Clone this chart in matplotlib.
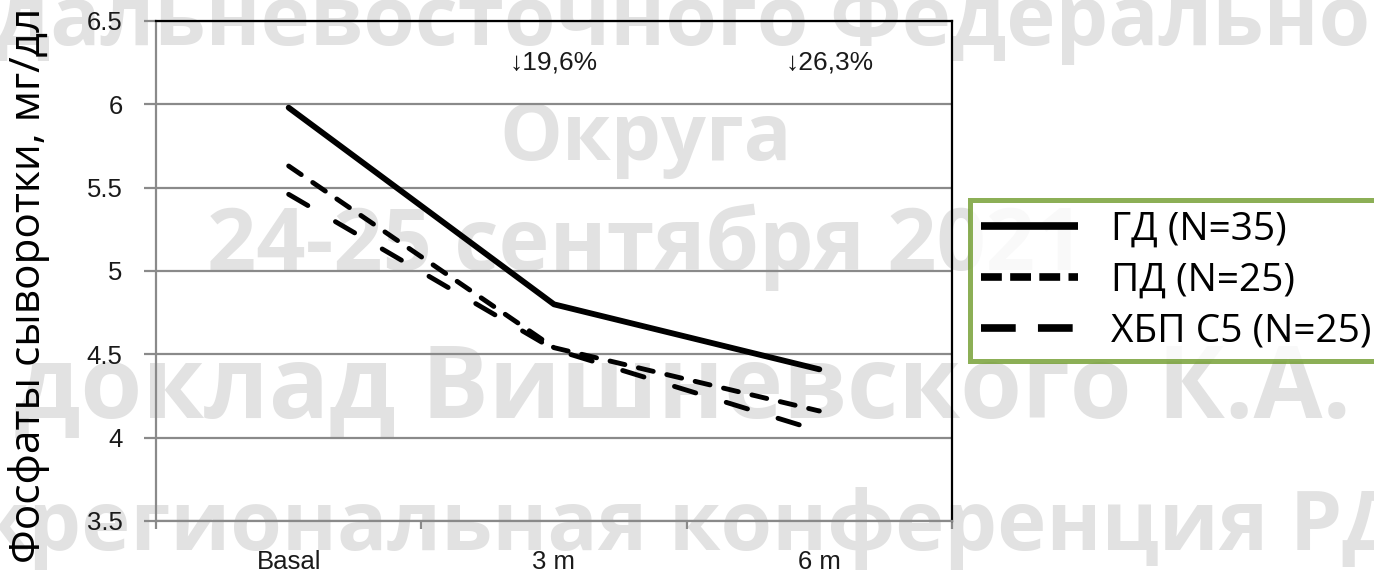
import matplotlib
matplotlib.use("Agg")
import matplotlib.pyplot as plt
from matplotlib.lines import Line2D

plt.rcParams['lines.scale_dashes'] = False

# data
categories = ['Basal', '3 m', '6 m']
gd_values = [5.98, 4.80, 4.41]
pd_values = [5.63, 4.54, 4.16]
ckd_values = [5.46, 4.53, 4.04]
series_labels = ['ГД (N=35)', 'ПД (N=25)', 'ХБП С5 (N=25)']
drop_labels = ['↓19,6%', '↓26,3%']
drop_x = [1.0, 2.04]
y_ticks = [3.5, 4, 4.5, 5, 5.5, 6, 6.5]
ylabel = 'Фосфаты сыворотки, мг/дл'

# watermark lines: text, baseline (px from top), centre x (fig frac), size
watermark = ['дальневосточного Федерального', 'Округа', '24-25 сентября 2021',
             'доклад Вишневского К.А.', 'межрегиональная конференция РДО']
watermark_base = [45, 160, 270, 418, 550]
watermark_cx = [0.53, 0.47, 0.47, 0.497, 0.476]
watermark_size = [60, 57, 62, 72, 60]

W, H = 1374, 573
fig = plt.figure(figsize=(W / 100, H / 100), dpi=100)
ax = fig.add_axes([156 / W, 1 - 521 / H, (952 - 156) / W, (521 - 21) / H])
ax.set_facecolor('none')

# watermark behind everything
for txt, yb, cx, fs in zip(watermark, watermark_base, watermark_cx, watermark_size):
    fig.text(cx, 1 - yb / H, txt, ha='center', va='baseline',
             fontsize=fs, fontweight='bold', family='Open Sans',
             color='#e2e2e2', zorder=-5)

x = range(len(categories))
ax.plot(x, gd_values, color='black', lw=4.2, solid_capstyle='round',
        solid_joinstyle='round', zorder=5)
ax.plot(x, pd_values, color='black', lw=3.5, dashes=(11, 10),
        dash_capstyle='round', zorder=4)
ax.plot(x, ckd_values, color='black', lw=3.5, dashes=(16, 23),
        dash_capstyle='round', zorder=4)

ax.set_xlim(-0.5, 2.5)
ax.set_ylim(3.5, 6.5)
ax.set_yticks(y_ticks)
ax.set_yticklabels([f'{v:g}' for v in y_ticks])
ax.grid(axis='y', color='#8a8a8a', lw=1.6)
ax.set_axisbelow(True)

ax.set_xticks([-0.5, 0.5, 1.5, 2.5])
ax.set_xticklabels([])
ax.set_xticks(list(x), minor=True)
ax.set_xticklabels(categories, minor=True)
ax.tick_params(axis='x', which='major', length=6, width=1.6, color='#8a8a8a')
ax.tick_params(axis='x', which='minor', length=0, pad=21, labelsize=18.5,
               labelcolor='#1a1a1a')
ax.tick_params(axis='y', length=9, width=1.6, color='#8a8a8a', pad=15,
               labelsize=18.5, labelcolor='#1a1a1a')
for lab in ax.get_xticklabels(minor=True) + ax.get_yticklabels():
    lab.set_family('Liberation Sans')

for side in ['left', 'bottom']:
    ax.spines[side].set_color('#8a8a8a')
    ax.spines[side].set_linewidth(1.6)
for side in ['top', 'right']:
    ax.spines[side].set_color('black')
    ax.spines[side].set_linewidth(1.6)

for lab, xx in zip(drop_labels, drop_x):
    ax.text(xx, 6.25, lab, ha='center', va='center', fontsize=19,
            family=['Liberation Sans', 'DejaVu Sans'], color='#1a1a1a')

fig.text(0.021, 0.502, ylabel, rotation=90, ha='center', va='center',
         fontsize=30.5, family='Open Sans', color='black')

handles = [
    Line2D([], [], color='black', lw=5.5, solid_capstyle='butt'),
    Line2D([], [], color='black', lw=5.5, dashes=(15, 6), dash_capstyle='butt'),
    Line2D([], [], color='black', lw=5.5, dashes=(25, 16), dash_capstyle='butt'),
]
leg = fig.legend(handles, series_labels, loc='upper left',
                 bbox_to_anchor=(970 / W, 1 - 200 / H), borderaxespad=0,
                 fancybox=False, handlelength=2.5, handletextpad=0.85,
                 borderpad=0.28, labelspacing=0.33,
                 prop={'family': 'Open Sans', 'size': 28})
leg.get_frame().set_edgecolor('#6f9b2c')
leg.get_frame().set_linewidth(3.6)

fig.savefig('out.png', dpi=100)
